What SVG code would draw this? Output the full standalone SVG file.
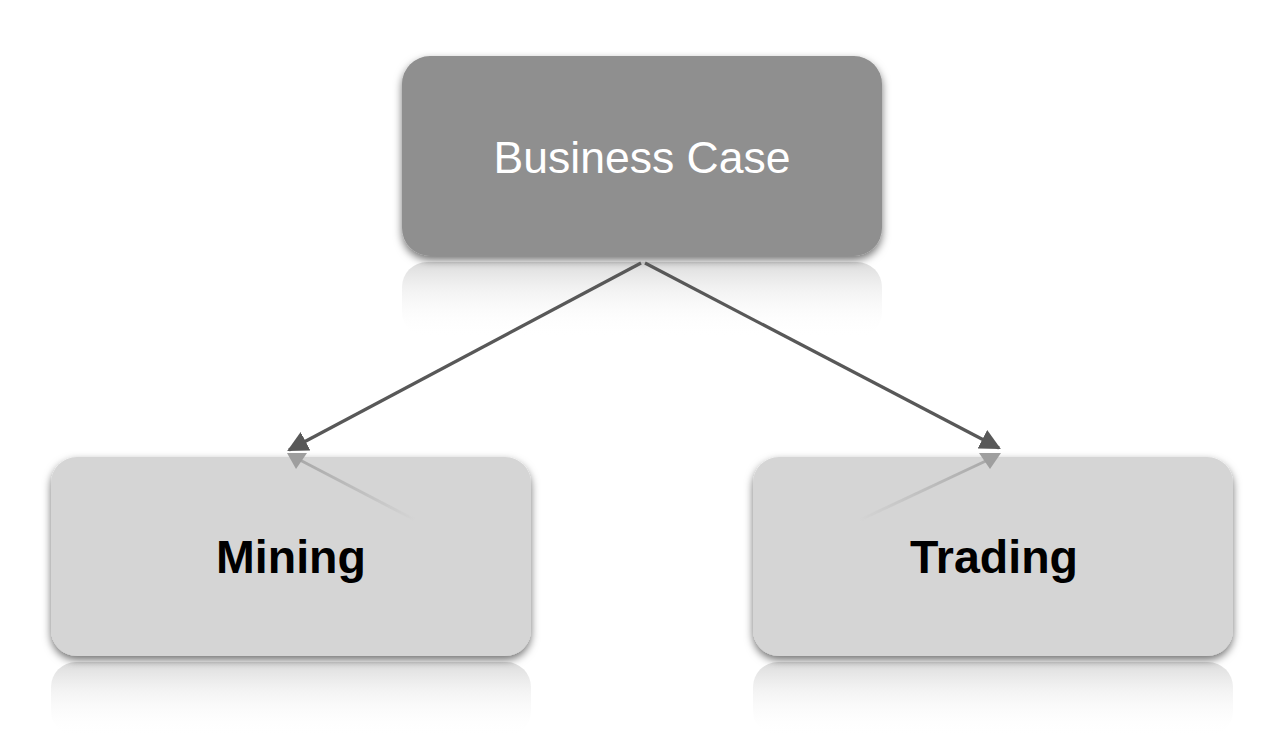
<svg xmlns="http://www.w3.org/2000/svg" width="1288" height="736" viewBox="0 0 1288 736">
  <style>
    .lbl-top { font-family: "Liberation Sans", Arial, sans-serif; font-size: 44.5px; fill: #ffffff; text-anchor: middle; }
    .lbl { font-family: "Liberation Sans", Arial, sans-serif; font-size: 46.5px; font-weight: bold; fill: #000000; text-anchor: middle; }
    .edge { stroke: #585858; stroke-width: 3.2; fill: none; marker-end: url(#arrow); }
  </style>
  <defs>
    <filter id="shadow" x="-10%" y="-10%" width="120%" height="130%">
      <feDropShadow dx="0" dy="4" stdDeviation="4" flood-color="#000" flood-opacity="0.55"/>
    </filter>
    <linearGradient id="refl" x1="0" y1="0" x2="0" y2="1">
      <stop offset="0" stop-color="#d8d8d8" stop-opacity="0.9"/>
      <stop offset="0.35" stop-color="#ececec" stop-opacity="0.7"/>
      <stop offset="1" stop-color="#ffffff" stop-opacity="0"/>
    </linearGradient>
    <linearGradient id="reflLineL" x1="290" y1="455" x2="415" y2="520" gradientUnits="userSpaceOnUse">
      <stop offset="0" stop-color="#9a9a9a"/>
      <stop offset="1" stop-color="#d5d5d5"/>
    </linearGradient>
    <linearGradient id="reflLineR" x1="998" y1="455" x2="860" y2="520" gradientUnits="userSpaceOnUse">
      <stop offset="0" stop-color="#9a9a9a"/>
      <stop offset="1" stop-color="#d5d5d5"/>
    </linearGradient>
    <marker id="arrow" viewBox="0 0 10 10" refX="9" refY="5" markerWidth="6.5" markerHeight="6.5" orient="auto" markerUnits="strokeWidth">
      <path d="M0,0 L10,5 L0,10 z" fill="#585858"/>
    </marker>
  </defs>

  <rect width="1288" height="736" fill="#ffffff"/>

  <g id="reflections">
    <rect x="402" y="262" width="480" height="75" rx="25" fill="url(#refl)"/>
    <rect x="51" y="662" width="480" height="74" rx="25" fill="url(#refl)"/>
    <rect x="753" y="662" width="480" height="74" rx="25" fill="url(#refl)"/>
  </g>

  <g id="node-business-case">
    <rect x="402" y="56" width="480" height="200" rx="28" fill="#8f8f8f" filter="url(#shadow)"/>
    <text class="lbl-top" x="642" y="173">Business Case</text>
  </g>

  <g id="node-mining">
    <rect x="51" y="457" width="480" height="199" rx="26" fill="#d5d5d5" filter="url(#shadow)"/>
    <line x1="298" y1="459" x2="415" y2="520" stroke="url(#reflLineL)" stroke-width="3" opacity="0.8"/>
    <path d="M287,453 L307,453 L296,469 z" fill="#9e9e9e"/>
    <text class="lbl" x="291" y="573">Mining</text>
  </g>

  <g id="node-trading">
    <rect x="753" y="457" width="480" height="199" rx="26" fill="#d5d5d5" filter="url(#shadow)"/>
    <line x1="990" y1="459" x2="860" y2="520" stroke="url(#reflLineR)" stroke-width="3" opacity="0.8"/>
    <path d="M979,453 L1001,453 L990,469 z" fill="#9e9e9e"/>
    <text class="lbl" x="994" y="573">Trading</text>
  </g>

  <g id="connectors">
    <line class="edge" x1="641" y1="263" x2="289" y2="450"/>
    <line class="edge" x1="645" y1="263" x2="999" y2="448"/>
  </g>
</svg>
